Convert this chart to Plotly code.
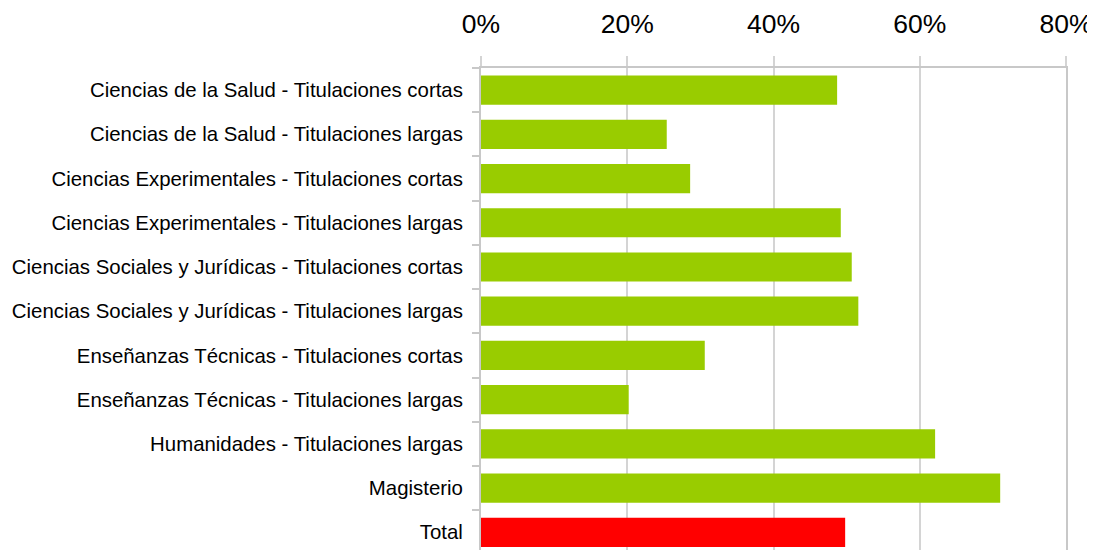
import plotly.graph_objects as go

categorias = [
    "Ciencias de la Salud - Titulaciones cortas",
    "Ciencias de la Salud - Titulaciones largas",
    "Ciencias Experimentales - Titulaciones cortas",
    "Ciencias Experimentales - Titulaciones largas",
    "Ciencias Sociales y Jurídicas - Titulaciones cortas",
    "Ciencias Sociales y Jurídicas - Titulaciones largas",
    "Enseñanzas Técnicas - Titulaciones cortas",
    "Enseñanzas Técnicas - Titulaciones largas",
    "Humanidades - Titulaciones largas",
    "Magisterio",
    "Total",
]
porcentajes = [48.7, 25.4, 28.6, 49.2, 50.7, 51.6, 30.6, 20.2, 62.1, 71.0, 49.8]
colores = ["#99CC00"] * 10 + ["#FF0000"]

tick_vals = [0, 20, 40, 60, 80]
tick_text = ["0%", "20%", "40%", "60%", "80%"]

fig = go.Figure(
    go.Bar(
        x=porcentajes,
        y=categorias,
        orientation="h",
        marker=dict(color=colores, line=dict(width=0)),
        width=0.66,
        hoverinfo="x+y",
    )
)

fig.update_xaxes(
    side="top",
    range=[0, 80],
    tickvals=tick_vals,
    ticktext=tick_text,
    tickfont=dict(family="Liberation Sans, Arial", size=26.5, color="#000000"),
    ticklabeloverflow="allow",
    showgrid=True,
    gridcolor="#D4D4D4",
    gridwidth=1.5,
    ticks="outside",
    ticklen=10,
    tickcolor="#D4D4D4",
    tickwidth=1.5,
    ticklabelstandoff=12,
    showline=True,
    linecolor="#C8C8C8",
    linewidth=2,
    zeroline=False,
    fixedrange=True,
)

fig.update_yaxes(
    categoryorder="array",
    categoryarray=categorias,
    range=[len(categorias) - 1 + 0.4, -0.5],
    tickfont=dict(family="Liberation Sans, Arial", size=20.4, color="#000000"),
    ticks="outside",
    tickson="boundaries",
    ticklen=7,
    tickcolor="#C8C8C8",
    tickwidth=1.5,
    ticklabelstandoff=12,
    showline=True,
    mirror=True,
    linecolor="#C8C8C8",
    linewidth=2,
    showgrid=False,
    zeroline=False,
    fixedrange=True,
)

# la página deja 8 px de margen alrededor del gráfico
fig.update_layout(
    width=1087,
    height=542,
    margin=dict(l=473, r=29, t=60, b=0, autoexpand=False),
    plot_bgcolor="#FFFFFF",
    paper_bgcolor="#FFFFFF",
    showlegend=False,
    bargap=0.34,
)

fig.write_html("out.html")
